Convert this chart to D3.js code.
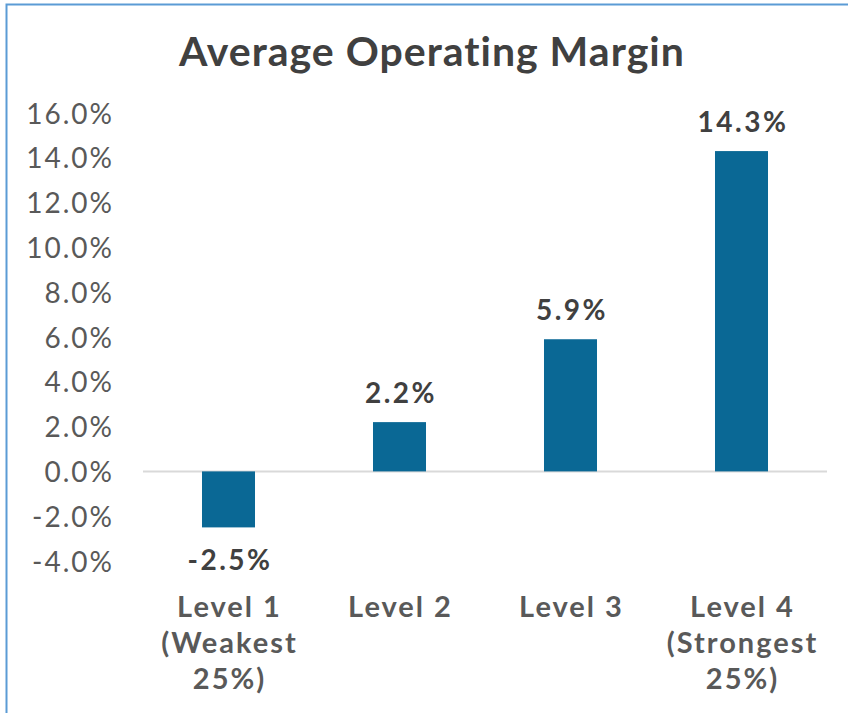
<!DOCTYPE html>
<html><head><meta charset="utf-8">
<script src="https://cdn.jsdelivr.net/npm/d3@7"></script>
<style>body{margin:0;background:#fff;} svg{display:block;font-family:Lato,sans-serif;}</style>
</head><body>
<script>
const categories = [["Level 1","(Weakest","25%)"],["Level 2"],["Level 3"],["Level 4","(Strongest","25%)"]];
const categoryKeys = ["Level 1","Level 2","Level 3","Level 4"];
const values = [-2.5, 2.2, 5.9, 14.3];
const yTicks = [-4,-2,0,2,4,6,8,10,12,14,16];
const title = "Average Operating Margin";

const W = 848, H = 713;
const svg = d3.select("body").append("svg").attr("width",W).attr("height",H);
svg.append("rect").attr("x",6.5).attr("y",4.5).attr("width",W).attr("height",H)
  .attr("fill","#fff").attr("stroke","#5b9bd5").attr("stroke-width",2);

const x = d3.scaleBand().domain(categoryKeys).range([143,827]).paddingInner(0.69).paddingOuter(0.345);
const y = d3.scaleLinear().domain([-4,16]).range([561,113]);

svg.append("text").attr("x",432).attr("y",66).attr("text-anchor","middle")
  .attr("font-size",41).attr("font-weight","bold").attr("fill","#404040")
  .attr("letter-spacing",1).text(title);

const yAxis = d3.axisLeft(y).tickValues(yTicks).tickSize(0).tickPadding(0).tickFormat(d=>d.toFixed(1)+"%");
const gy = svg.append("g").attr("transform","translate(114,0)").call(yAxis);
gy.select(".domain").remove();
gy.selectAll("text").attr("font-size",28).attr("fill","#595959").attr("font-family","Lato,sans-serif")
  .attr("letter-spacing",2).attr("dy","0.36em");

svg.append("line").attr("x1",143).attr("x2",827).attr("y1",y(0)).attr("y2",y(0))
  .attr("stroke","#d9d9d9").attr("stroke-width",2);

svg.selectAll("rect.bar").data(values).join("rect").attr("class","bar")
  .attr("x",(d,i)=>x(categoryKeys[i])).attr("width",x.bandwidth())
  .attr("y",d=>y(Math.max(0,d))).attr("height",d=>Math.abs(y(d)-y(0)))
  .attr("fill","#0a6895");

svg.selectAll("text.lbl").data(values).join("text").attr("class","lbl")
  .attr("x",(d,i)=>x(categoryKeys[i])+x.bandwidth()/2+1.5)
  .attr("y",d=> d>=0 ? y(d)-19 : y(d)+43)
  .attr("text-anchor","middle").attr("font-size",28).attr("font-weight","bold").attr("fill","#404040")
  .attr("letter-spacing",2.5)
  .text(d=>d.toFixed(1)+"%");

categories.forEach((lines,i)=>{
  const t = svg.append("text").attr("text-anchor","middle").attr("font-size",29).attr("font-weight","bold")
    .attr("fill","#595959").attr("letter-spacing",2);
  lines.forEach((ln,j)=>{
    t.append("tspan").attr("x",x(categoryKeys[i])+x.bandwidth()/2+1).attr("y",617+j*36).text(ln);
  });
});
</script>
</body></html>
